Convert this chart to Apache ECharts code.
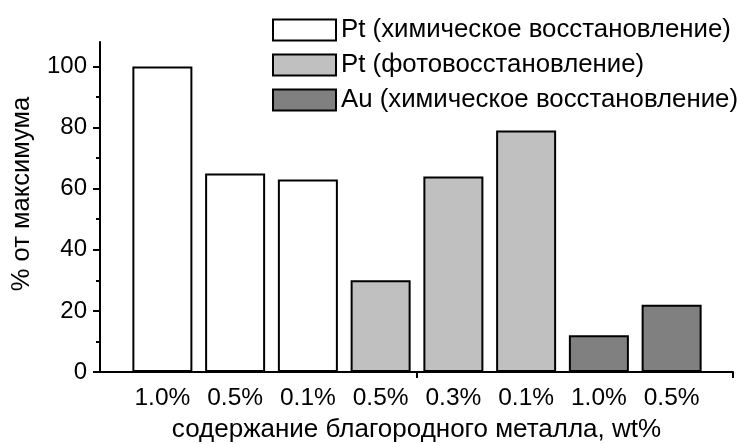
<!DOCTYPE html>
<html>
<head>
<meta charset="utf-8">
<script src="https://cdn.jsdelivr.net/npm/echarts@6/dist/echarts.min.js"></script>
<style>
  html, body { margin: 0; padding: 0; background: #fff; }
  #chart { width: 748px; height: 444px; }
</style>
</head>
<body>
<div id="chart"></div>
<script>
// данные
const categories = ['1.0%', '0.5%', '0.1%', '0.5%', '0.3%', '0.1%', '1.0%', '0.5%'];
const seriesNames = [
  'Pt (химическое восстановление)',
  'Pt (фотовосстановление)',
  'Au (химическое восстановление)'
];
const ptChem = [100, 65, 63, '-', '-', '-', '-', '-'];
const ptPhoto = ['-', '-', '-', 30, 64, 79, '-', '-'];
const auChem = ['-', '-', '-', '-', '-', '-', 12, 22];
const yTicks = [0, 20, 40, 60, 80, 100];
const yMinorTicks = [10, 30, 50, 70, 90];
const xFrameTicks = [0.5, 1];

const font = 'Liberation Sans, Arial, sans-serif';
const colors = ['#ffffff', '#c0c0c0', '#808080'];

const chart = echarts.init(document.getElementById('chart'));

const makeBar = (name, data, color) => ({
  name,
  type: 'bar',
  stack: 'all',
  xAxisIndex: 1,
  yAxisIndex: 2,
  barWidth: 60,
  data,
  itemStyle: { color, borderColor: '#000', borderWidth: 2 },
});

chart.setOption({
  animation: false,
  textStyle: { fontFamily: font },
  legend: {
    orient: 'vertical',
    left: 272,
    top: 17,
    padding: 0,
    itemWidth: 63,
    itemHeight: 21,
    itemGap: 9,
    icon: 'rect',
    textStyle: { fontSize: 25.8, color: '#000', fontFamily: font, lineHeight: 23 },
    data: seriesNames,
  },
  grid: [
    { left: 100, right: 15, top: 42, bottom: 72, outerBoundsMode: 'none' },
    { left: 126, right: 40, top: 42, bottom: 72, outerBoundsMode: 'none' },
  ],
  xAxis: [
    {
      // рамка оси X
      type: 'value',
      gridIndex: 0,
      min: 0,
      max: 1,
      axisLine: { lineStyle: { color: '#000', width: 2 } },
      axisTick: { customValues: xFrameTicks, length: 6, lineStyle: { color: '#000', width: 2 } },
      axisLabel: { show: false },
      splitLine: { show: false },
      name: 'содержание благородного металла, wt%',
      nameLocation: 'middle',
      nameGap: 45,
      nameTextStyle: { fontSize: 26, color: '#000', fontFamily: font },
    },
    {
      type: 'category',
      gridIndex: 1,
      data: categories,
      axisLine: { show: false },
      axisTick: { show: false },
      axisLabel: { fontSize: 24.5, color: '#000', margin: 14, interval: 0 },
    },
  ],
  yAxis: [
    {
      type: 'value',
      gridIndex: 0,
      min: 0,
      max: 108,
      axisLine: { show: true, lineStyle: { color: '#000', width: 2 } },
      axisTick: { customValues: yTicks, length: 7, lineStyle: { color: '#000', width: 2 } },
      axisLabel: { customValues: yTicks, fontSize: 24, color: '#000', margin: 13 },
      splitLine: { show: false },
      name: '% от максимума',
      nameLocation: 'middle',
      nameGap: 65,
      nameTextStyle: { fontSize: 25.5, color: '#000', fontFamily: font, padding: [0, 0, 0, 26] },
    },
    {
      // малые деления
      type: 'value',
      gridIndex: 0,
      position: 'left',
      min: 0,
      max: 108,
      axisLine: { show: false },
      axisTick: { customValues: yMinorTicks, length: 4, lineStyle: { color: '#000', width: 2 } },
      axisLabel: { show: false },
      splitLine: { show: false },
    },
    {
      type: 'value',
      gridIndex: 1,
      min: 0,
      max: 108,
      show: false,
    },
  ],
  series: [
    makeBar(seriesNames[0], ptChem, colors[0]),
    makeBar(seriesNames[1], ptPhoto, colors[1]),
    makeBar(seriesNames[2], auChem, colors[2]),
  ],
});
</script>
</body>
</html>
